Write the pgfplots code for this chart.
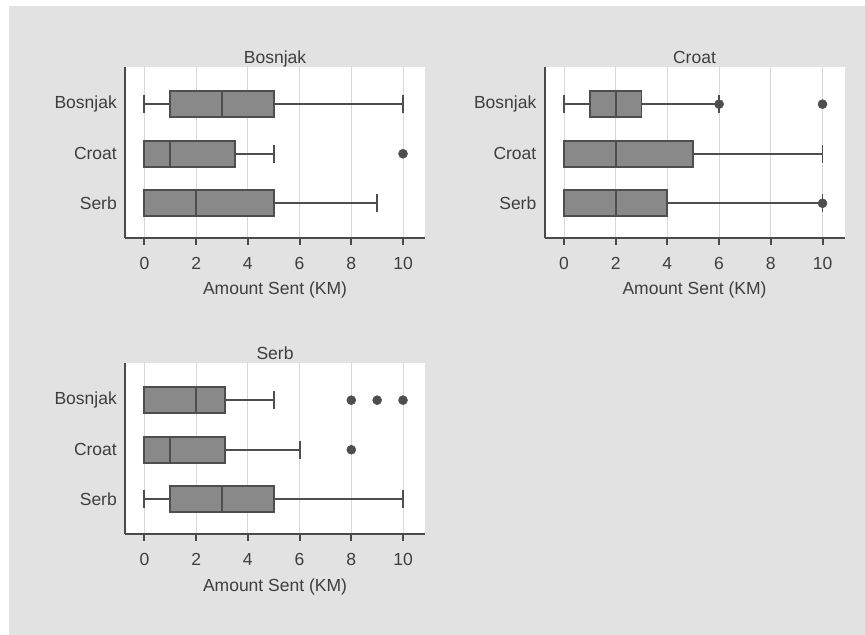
\documentclass[border=0pt]{standalone}
\usepackage{fontspec}
\setmainfont{Liberation Sans}
\usepackage{pgfplots}
\pgfplotsset{compat=1.18}
\usepgfplotslibrary{statistics}
\definecolor{bgc}{HTML}{E2E2E2}
\definecolor{axc}{HTML}{4A4A4A}
\definecolor{gridc}{HTML}{D8D8D8}
\definecolor{boxc}{HTML}{898989}
\definecolor{edgec}{HTML}{4E4E4E}
\definecolor{textc}{HTML}{3E3E3E}
\pgfplotsset{
  panel/.style={
    scale only axis, width=300bp, height=171bp,
    xmin=-0.75, xmax=10.85, ymin=0.3, ymax=3.75,
    axis x line*=bottom, axis y line*=left,
    axis line style={draw=axc, line width=2bp, -},
    xtick={0,2,4,6,8,10}, ytick={1,2,3}, yticklabels={Serb,Croat,Bosnjak},
    xmajorgrids, ymajorgrids=false, grid style={draw=gridc, line width=0.8bp},
    tick align=outside, major tick length=7bp,
    xtick style={draw=axc, line width=2bp},
    ytick style={draw=none},
    axis background/.style={fill=white},
    /pgf/number format/assume math mode=true,
    tick label style={font=\fontsize{17.5bp}{20bp}\selectfont, text=textc},
    xticklabel style={anchor=base, yshift=-25bp},
    yticklabel style={anchor=east, inner sep=0pt, xshift=-1bp},
    title style={font=\fontsize{17.5bp}{20bp}\selectfont, text=textc, at={(0.5,1)}, anchor=base, yshift=-2bp},
    xlabel={Amount Sent (KM)},
    xlabel style={font=\fontsize{17.5bp}{20bp}\selectfont, text=textc, at={(axis description cs:0.5,0)}, anchor=base, yshift=-57bp},
    boxplot/draw direction=x,
    boxplot/box extend=0.52,
    boxplot/whisker extend=0.36,
    boxplot/every whisker/.style={draw=edgec, line width=1.9bp},
    boxplot/every box/.style={draw=edgec, fill=boxc, line width=1.9bp},
    boxplot/every median/.style={draw=edgec, line width=1.9bp},
    clip=false,
  },
  bx/.style={draw=edgec, fill=boxc, line width=1.9bp, solid, mark=none},
  outl/.style={only marks, mark=*, mark size=4.5bp, mark options={fill=edgec, draw=edgec, line width=0.5bp}},
}
\begin{document}
\begin{tikzpicture}
\fill[white] (0,0) rectangle (865bp,635bp);
\fill[bgc] (9bp,0) rectangle (865bp,629bp);
\useasboundingbox (0,0) rectangle (865bp,635bp);

% Panel 1: Bosnjak
\begin{axis}[panel, title={Bosnjak}, at={(125bp,397bp)}, anchor=south west]
\addplot+[bx, boxplot prepared={lower whisker=0, lower quartile=1, median=3, upper quartile=5, upper whisker=10, draw position=3}] coordinates {};
\addplot+[bx, boxplot prepared={lower whisker=0, lower quartile=0, median=1, upper quartile=3.5, upper whisker=5, draw position=2}] coordinates {};
\addplot+[bx, boxplot prepared={lower whisker=0, lower quartile=0, median=2, upper quartile=5, upper whisker=9, draw position=1}] coordinates {};
\addplot[outl] coordinates {(10,2)};
\end{axis}

% Panel 2: Croat
\begin{axis}[panel, title={Croat}, at={(544.5bp,397bp)}, anchor=south west]
\addplot+[bx, boxplot prepared={lower whisker=0, lower quartile=1, median=2, upper quartile=3, upper whisker=6, draw position=3}] coordinates {};
\addplot+[bx, boxplot prepared={lower whisker=0, lower quartile=0, median=2, upper quartile=5, upper whisker=10, draw position=2}] coordinates {};
\addplot+[bx, boxplot prepared={lower whisker=0, lower quartile=0, median=2, upper quartile=4, upper whisker=10, draw position=1}] coordinates {};
\addplot[outl] coordinates {(6,3) (10,3) (10,1)};
\end{axis}

% Panel 3: Serb
\begin{axis}[panel, title={Serb}, at={(125bp,101bp)}, anchor=south west]
\addplot+[bx, boxplot prepared={lower whisker=0, lower quartile=0, median=2, upper quartile=3.1, upper whisker=5, draw position=3}] coordinates {};
\addplot+[bx, boxplot prepared={lower whisker=0, lower quartile=0, median=1, upper quartile=3.1, upper whisker=6, draw position=2}] coordinates {};
\addplot+[bx, boxplot prepared={lower whisker=0, lower quartile=1, median=3, upper quartile=5, upper whisker=10, draw position=1}] coordinates {};
\addplot[outl] coordinates {(8,3) (9,3) (10,3) (8,2)};
\end{axis}
\end{tikzpicture}
\end{document}
